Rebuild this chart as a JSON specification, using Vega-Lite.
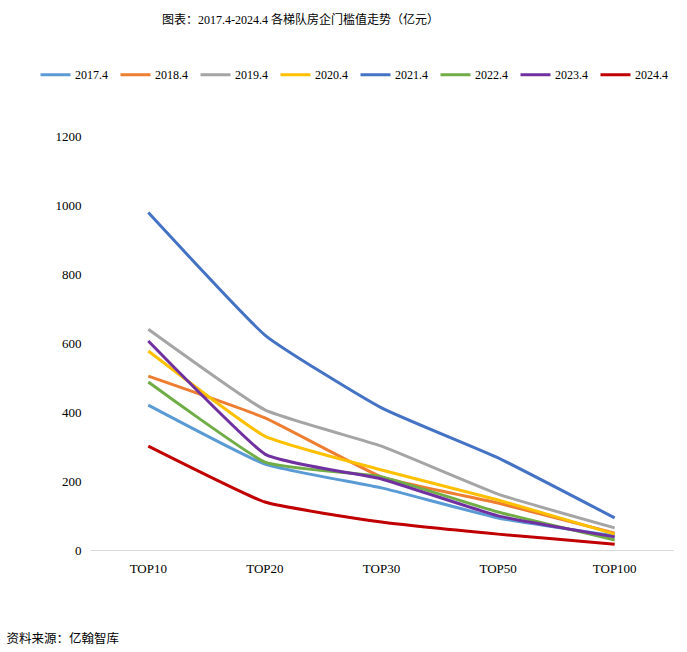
{
  "$schema": "https://vega.github.io/schema/vega-lite/v6.json",
  "width": 583,
  "height": 414,
  "autosize": {"type": "none"},
  "padding": {"left": 90, "top": 136, "right": 14, "bottom": 102},
  "background": "white",
  "config": {"view": {"stroke": null}, "font": "Liberation Serif"},
  "title": {
    "text": "图表：2017.4-2024.4 各梯队房企门槛值走势（亿元）",
    "anchor": "start",
    "frame": "group",
    "dx": 72,
    "offset": 31,
    "font": "Liberation Serif, Noto Sans CJK SC",
    "fontSize": 12,
    "fontWeight": "normal",
    "color": "#000000"
  },
  "data": {
    "values": [
      {"year": "2017.4", "tier": "TOP10", "value": 420},
      {"year": "2017.4", "tier": "TOP20", "value": 249},
      {"year": "2017.4", "tier": "TOP30", "value": 180},
      {"year": "2017.4", "tier": "TOP50", "value": 93},
      {"year": "2017.4", "tier": "TOP100", "value": 41},
      {"year": "2018.4", "tier": "TOP10", "value": 504},
      {"year": "2018.4", "tier": "TOP20", "value": 383},
      {"year": "2018.4", "tier": "TOP30", "value": 212},
      {"year": "2018.4", "tier": "TOP50", "value": 136},
      {"year": "2018.4", "tier": "TOP100", "value": 49},
      {"year": "2019.4", "tier": "TOP10", "value": 640},
      {"year": "2019.4", "tier": "TOP20", "value": 406},
      {"year": "2019.4", "tier": "TOP30", "value": 301},
      {"year": "2019.4", "tier": "TOP50", "value": 162},
      {"year": "2019.4", "tier": "TOP100", "value": 64},
      {"year": "2020.4", "tier": "TOP10", "value": 577},
      {"year": "2020.4", "tier": "TOP20", "value": 330},
      {"year": "2020.4", "tier": "TOP30", "value": 232},
      {"year": "2020.4", "tier": "TOP50", "value": 145},
      {"year": "2020.4", "tier": "TOP100", "value": 46},
      {"year": "2021.4", "tier": "TOP10", "value": 978},
      {"year": "2021.4", "tier": "TOP20", "value": 623},
      {"year": "2021.4", "tier": "TOP30", "value": 412},
      {"year": "2021.4", "tier": "TOP50", "value": 267},
      {"year": "2021.4", "tier": "TOP100", "value": 93},
      {"year": "2022.4", "tier": "TOP10", "value": 487},
      {"year": "2022.4", "tier": "TOP20", "value": 255},
      {"year": "2022.4", "tier": "TOP30", "value": 212},
      {"year": "2022.4", "tier": "TOP50", "value": 110},
      {"year": "2022.4", "tier": "TOP100", "value": 29},
      {"year": "2023.4", "tier": "TOP10", "value": 606},
      {"year": "2023.4", "tier": "TOP20", "value": 278},
      {"year": "2023.4", "tier": "TOP30", "value": 206},
      {"year": "2023.4", "tier": "TOP50", "value": 99},
      {"year": "2023.4", "tier": "TOP100", "value": 38},
      {"year": "2024.4", "tier": "TOP10", "value": 301},
      {"year": "2024.4", "tier": "TOP20", "value": 139},
      {"year": "2024.4", "tier": "TOP30", "value": 81},
      {"year": "2024.4", "tier": "TOP50", "value": 46},
      {"year": "2024.4", "tier": "TOP100", "value": 17}
    ]
  },
  "mark": {"type": "line", "strokeWidth": 3, "interpolate": "cardinal", "tension": 0.6},
  "encoding": {
    "x": {
      "field": "tier",
      "type": "nominal",
      "sort": ["TOP10", "TOP20", "TOP30", "TOP50", "TOP100"],
      "scale": {"type": "band", "paddingInner": 0, "paddingOuter": 0},
      "axis": {
        "labelAngle": 0,
        "ticks": false,
        "domainColor": "#d9d9d9",
        "domainWidth": 1,
        "labelFont": "Liberation Serif",
        "labelFontSize": 13,
        "labelColor": "#000000",
        "labelPadding": 12,
        "title": "资料来源：亿翰智库",
        "titleX": -84,
        "titleY": 88,
        "titleAlign": "left",
        "titleBaseline": "middle",
        "titleFont": "Liberation Serif, Noto Sans CJK SC",
        "titleFontSize": 12.5,
        "titleFontWeight": "normal",
        "titleColor": "#000000"
      }
    },
    "y": {
      "field": "value",
      "type": "quantitative",
      "scale": {"domain": [0, 1200]},
      "axis": {
        "values": [0, 200, 400, 600, 800, 1000, 1200],
        "format": "d",
        "grid": false,
        "domain": false,
        "ticks": false,
        "labelPadding": 9,
        "labelFont": "Liberation Serif",
        "labelFontSize": 13,
        "labelColor": "#000000",
        "title": null
      }
    },
    "color": {
      "field": "year",
      "type": "nominal",
      "scale": {
        "domain": ["2017.4", "2018.4", "2019.4", "2020.4", "2021.4", "2022.4", "2023.4", "2024.4"],
        "range": ["#5B9BD5", "#ED7D31", "#A5A5A5", "#FFC000", "#4472C4", "#70AD47", "#7030A0", "#C00000"]
      },
      "legend": {
        "title": null,
        "orient": "none",
        "legendX": -51,
        "legendY": -78,
        "direction": "horizontal",
        "symbolType": "stroke",
        "symbolStrokeWidth": 3,
        "symbolSize": 900,
        "labelFont": "Liberation Serif",
        "labelFontSize": 12,
        "labelColor": "#000000",
        "labelOffset": 3,
        "columnPadding": 6
      }
    }
  }
}
